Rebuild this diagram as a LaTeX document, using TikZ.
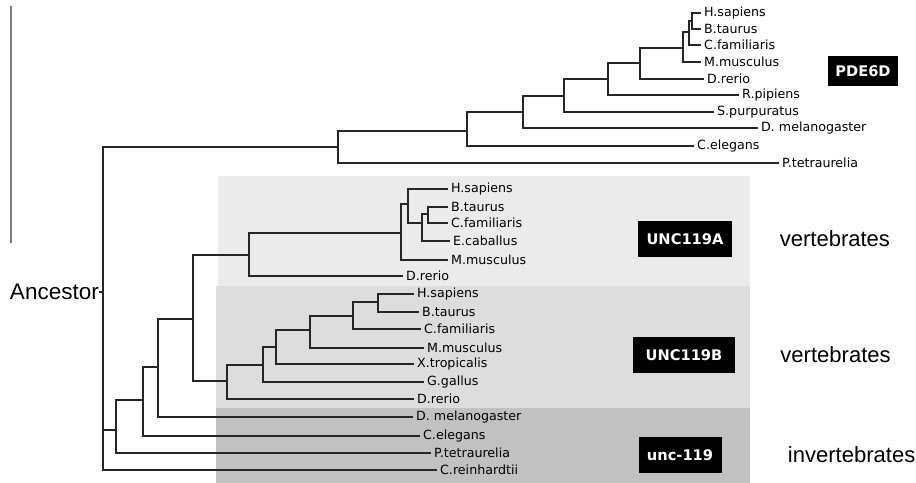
\documentclass[tikz,border=0pt]{standalone}
\usepackage{fontspec}
\setmainfont{DejaVu Sans}
\newfontfamily\arialfont{Liberation Sans}
\usepackage{tikz}
\usetikzlibrary{positioning}

\definecolor{shadeA}{RGB}{235,235,235}
\definecolor{shadeB}{RGB}{221,221,221}
\definecolor{shadeC}{RGB}{193,193,193}

\begin{document}
\begin{tikzpicture}[
    x=0.03cm, y=-0.03cm,
    branch_style/.style={draw=black!85, line width=1.1pt},
    leaf_style/.style={anchor=west, inner xsep=2.5pt, inner ysep=0pt, font=\fontsize{10.8}{12}\selectfont},
    box_style/.style={fill=black, text=white, inner sep=0pt, font=\fontsize{12.5}{14}\selectfont\bfseries},
    group_style/.style={anchor=west, inner sep=0pt, font=\arialfont\fontsize{18.8}{22}\selectfont}
]
\useasboundingbox (0,0) rectangle (916,483);

% Shaded groups
\fill[shadeA] (218,176) rectangle (750,286);
\fill[shadeB] (216,286) rectangle (750,408);
\fill[shadeC] (216,408) rectangle (750,483);

% Scale line
\coordinate (barTop) at (11,6);
\coordinate (barBot) at (11,243);
\draw[gray, line width=1pt] (barTop) -- (barBot);

% Root
\node[anchor=east, inner sep=0pt, font=\arialfont\fontsize{19.2}{22}\selectfont] (anc) at (99,292) {Ancestor};
\coordinate (root) at (103,292);
\draw[branch_style] (anc.east) -- (root);

% PDE6D clade
\coordinate (p1) at (338,147);
\coordinate (p2) at (467,131);
\coordinate (p3) at (523,112);
\coordinate (p4) at (564,96);
\coordinate (p5) at (608,79);
\coordinate (p6) at (640,63);
\coordinate (p7) at (683,48);
\coordinate (p8) at (689,32);
\coordinate (p9) at (692,21);

\node[leaf_style] (pHs) at (701,13) {H.sapiens};
\node[leaf_style] (pBt) at (701,29) {B.taurus};
\node[leaf_style] (pCf) at (701,45) {C.familiaris};
\node[leaf_style] (pMm) at (701,62) {M.musculus};
\node[leaf_style] (pDr) at (704,79) {D.rerio};
\node[leaf_style] (pRp) at (739,95) {R.pipiens};
\node[leaf_style] (pSp) at (714,112) {S.purpuratus};
\node[leaf_style] (pDm) at (758,128) {D. melanogaster};
\node[leaf_style] (pCe) at (694,146) {C.elegans};
\node[leaf_style] (pPt) at (779,163) {P.tetraurelia};

\draw[branch_style] (root) |- (p1);
\draw[branch_style] (p1) |- (p2);
\draw[branch_style] (p1) |- (pPt.west);
\draw[branch_style] (p2) |- (p3);
\draw[branch_style] (p2) |- (pCe.west);
\draw[branch_style] (p3) |- (p4);
\draw[branch_style] (p3) |- (pDm.west);
\draw[branch_style] (p4) |- (p5);
\draw[branch_style] (p4) |- (pSp.west);
\draw[branch_style] (p5) |- (p6);
\draw[branch_style] (p5) |- (pRp.west);
\draw[branch_style] (p6) |- (p7);
\draw[branch_style] (p6) |- (pDr.west);
\draw[branch_style] (p7) |- (p8);
\draw[branch_style] (p7) |- (pMm.west);
\draw[branch_style] (p8) |- (p9);
\draw[branch_style] (p8) |- (pCf.west);
\draw[branch_style] (p9) |- (pHs.west);
\draw[branch_style] (p9) |- (pBt.west);

\node[box_style, minimum width=2.1cm, minimum height=0.9cm] (boxP) at (863,71) {PDE6D};

% unc-119 backbone
\coordinate (u1) at (116,430);
\coordinate (u2) at (143,400);
\coordinate (u3) at (158,367);
\coordinate (u4) at (193,319);

\node[leaf_style] (uDm) at (413,417) {D. melanogaster};
\node[leaf_style] (uCe) at (420,436) {C.elegans};
\node[leaf_style] (uPt) at (431,453) {P.tetraurelia};
\node[leaf_style] (cRe) at (437,470) {C.reinhardtii};

\draw[branch_style] (root) |- (u1);
\draw[branch_style] (root) |- (cRe.west);
\draw[branch_style] (u1) |- (u2);
\draw[branch_style] (u1) |- (uPt.west);
\draw[branch_style] (u2) |- (u3);
\draw[branch_style] (u2) |- (uCe.west);
\draw[branch_style] (u3) |- (u4);
\draw[branch_style] (u3) |- (uDm.west);

% UNC119A clade
\coordinate (a1) at (249,255);
\coordinate (a2) at (401,233);
\coordinate (a3) at (408,204);
\coordinate (a4) at (422,223);
\coordinate (a5) at (428,214);

\node[leaf_style] (aHs) at (448,189) {H.sapiens};
\node[leaf_style] (aBt) at (448,207) {B.taurus};
\node[leaf_style] (aCf) at (448,223) {C.familiaris};
\node[leaf_style] (aEc) at (450,241) {E.caballus};
\node[leaf_style] (aMm) at (448,260) {M.musculus};
\node[leaf_style] (aDr) at (403,276) {D.rerio};

\draw[branch_style] (u4) |- (a1);
\draw[branch_style] (a1) |- (a2);
\draw[branch_style] (a1) |- (aDr.west);
\draw[branch_style] (a2) |- (a3);
\draw[branch_style] (a2) |- (aMm.west);
\draw[branch_style] (a3) |- (aHs.west);
\draw[branch_style] (a3) |- (a4);
\draw[branch_style] (a4) |- (a5);
\draw[branch_style] (a4) |- (aEc.west);
\draw[branch_style] (a5) |- (aBt.west);
\draw[branch_style] (a5) |- (aCf.west);

% UNC119B clade
\coordinate (b1) at (227,381);
\coordinate (b2) at (263,365);
\coordinate (b3) at (276,347);
\coordinate (b4) at (310,330);
\coordinate (b5) at (353,316);
\coordinate (b6) at (378,302);

\node[leaf_style] (bHs) at (414,294) {H.sapiens};
\node[leaf_style] (bBt) at (419,312) {B.taurus};
\node[leaf_style] (bCf) at (421,329) {C.familiaris};
\node[leaf_style] (bMm) at (424,348) {M.musculus};
\node[leaf_style] (bXt) at (414,364) {X.tropicalis};
\node[leaf_style] (bGg) at (424,382) {G.gallus};
\node[leaf_style] (bDr) at (414,399) {D.rerio};

\draw[branch_style] (u4) |- (b1);
\draw[branch_style] (b1) |- (b2);
\draw[branch_style] (b1) |- (bDr.west);
\draw[branch_style] (b2) |- (b3);
\draw[branch_style] (b2) |- (bGg.west);
\draw[branch_style] (b3) |- (b4);
\draw[branch_style] (b3) |- (bXt.west);
\draw[branch_style] (b4) |- (b5);
\draw[branch_style] (b4) |- (bMm.west);
\draw[branch_style] (b5) |- (b6);
\draw[branch_style] (b5) |- (bCf.west);
\draw[branch_style] (b6) |- (bHs.west);
\draw[branch_style] (b6) |- (bBt.west);

% Group boxes and labels
\node[box_style, minimum width=2.82cm, minimum height=1.08cm] (boxA) at (685,239) {UNC119A};
\node[box_style, minimum width=3.06cm, minimum height=1.05cm] (boxB) at (684,355) {UNC119B};
\node[box_style, minimum width=2.49cm, minimum height=1.05cm] (boxC) at (680,455) {unc-119};

\node[group_style, right=1.42cm of boxA] (vertA) {vertebrates};
\node[group_style, right=1.35cm of boxB] (vertB) {vertebrates};
\node[group_style, right=1.98cm of boxC] (invert) {invertebrates};

\end{tikzpicture}
\end{document}
